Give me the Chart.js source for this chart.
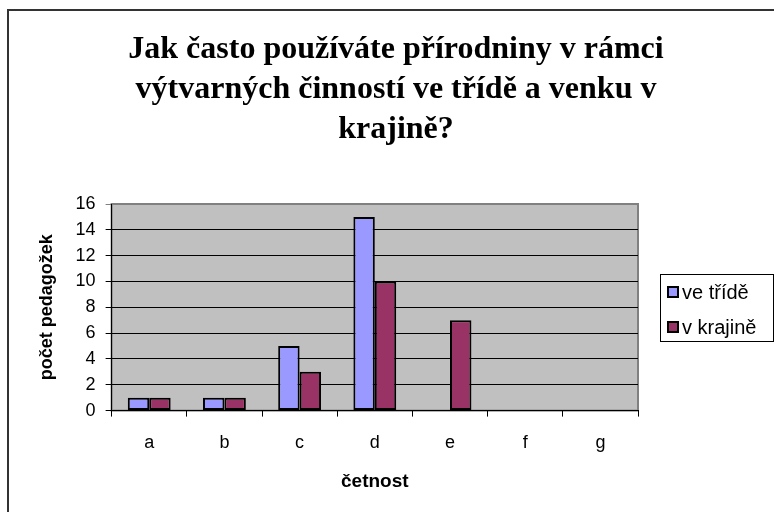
<!DOCTYPE html>
<html>
<head>
<meta charset="utf-8">
<script src="https://cdn.jsdelivr.net/npm/chart.js@4/dist/chart.umd.min.js"></script>
<style>
  html, body { margin: 0; padding: 0; background: #fff; }
  canvas { display: block; }
</style>
</head>
<body>
<canvas id="chart" width="774" height="512"></canvas>
<script>
// data
const categories = ['a', 'b', 'c', 'd', 'e', 'f', 'g'];
const veTride = [1, 1, 5, 15, 0, 0, 0];
const vKrajine = [1, 1, 3, 10, 7, 0, 0];
const yTicks = [0, 2, 4, 6, 8, 10, 12, 14, 16];
const seriesNames = ['ve třídě', 'v krajině'];
const titleLines = ['Jak často používáte přírodniny v rámci', 'výtvarných činností ve třídě a venku v', 'krajině?'];

const sans = "'Liberation Sans', Arial, sans-serif";

// gray plot area + outer frame
const plotArea = {
    id: 'plotArea',
    beforeDraw(chart) {
        const {ctx, chartArea: a} = chart;
        ctx.save();
        ctx.fillStyle = '#fff';
        ctx.fillRect(0, 0, chart.width, chart.height);
        ctx.fillStyle = '#C0C0C0';
        ctx.fillRect(a.left, a.top, a.right - a.left, a.bottom - a.top);
        ctx.strokeStyle = '#808080';
        ctx.lineWidth = 2;
        ctx.strokeRect(a.left, a.top, a.right - a.left, a.bottom - a.top);
        // frame of the chart object (only top and left show)
        ctx.strokeStyle = '#333';
        ctx.lineWidth = 2;
        ctx.beginPath();
        ctx.moveTo(8, 512);
        ctx.lineTo(8, 10);
        ctx.lineTo(774, 10);
        ctx.stroke();
        ctx.restore();
    }
};

// boxed legend like Excel
const boxLegend = {
    id: 'boxLegend',
    afterDraw(chart) {
        const {ctx} = chart;
        const x = 660, y = 274, w = 113, h = 67;
        ctx.save();
        ctx.fillStyle = '#fff';
        ctx.fillRect(x, y, w, h);
        ctx.strokeStyle = '#000';
        ctx.lineWidth = 1;
        ctx.strokeRect(x + 0.5, y + 0.5, w, h);
        ctx.font = '20px ' + sans;
        ctx.textBaseline = 'middle';
        chart.data.datasets.forEach((ds, i) => {
            const cy = 292 + i * 35;
            ctx.fillStyle = ds.backgroundColor;
            ctx.fillRect(668, cy - 5, 10, 10);
            ctx.lineWidth = 2;
            ctx.strokeStyle = '#000';
            ctx.strokeRect(668, cy - 5, 10, 10);
            ctx.fillStyle = '#000';
            ctx.fillText(ds.label, 682, cy + 1);
        });
        ctx.restore();
    }
};

const ctx = document.getElementById('chart').getContext('2d');
const chart = new Chart(ctx, {
    type: 'bar',
    data: {
        labels: categories,
        datasets: [
            {
                label: seriesNames[0],
                data: veTride,
                backgroundColor: '#9999FF',
                borderColor: '#000',
                borderWidth: c => (c.raw ? 2 : 0),
                borderSkipped: false
            },
            {
                label: seriesNames[1],
                data: vKrajine,
                backgroundColor: '#993366',
                borderColor: '#000',
                borderWidth: c => (c.raw ? 2 : 0),
                borderSkipped: false
            }
        ]
    },
    options: {
        responsive: false,
        animation: false,
        devicePixelRatio: 1,
        categoryPercentage: 0.57,
        barPercentage: 1,
        layout: {
            padding: { left: 18, right: 0, top: 0, bottom: 19 }
        },
        plugins: {
            legend: { display: false },
            tooltip: { enabled: false },
            title: {
                display: true,
                text: titleLines,
                color: '#000',
                font: { family: "'Liberation Serif', 'Times New Roman', serif", size: 32, weight: 'bold', lineHeight: 1.25 },
                padding: { top: 30, bottom: 54 }
            }
        },
        scales: {
            x: {
                ticks: { color: '#000', font: { family: sans, size: 18 }, padding: 16, autoSkip: false, maxRotation: 0 },
                grid: { display: true, offset: true, drawOnChartArea: false, color: '#000', tickLength: 6 },
                border: { display: true, color: '#000', width: 1 },
                title: {
                    display: true,
                    text: 'četnost',
                    color: '#000',
                    font: { family: sans, size: 19, weight: 'bold' },
                    padding: { top: 0, bottom: 0 }
                }
            },
            y: {
                min: 0,
                max: 16,
                afterBuildTicks: s => { s.ticks = yTicks.map(v => ({ value: v })); },
                ticks: { color: '#000', font: { family: sans, size: 18 }, padding: 10, autoSkip: false },
                grid: { color: c => (c.tick && c.tick.value === 16 ? '#808080' : '#000'), tickLength: 6, lineWidth: 1 },
                border: { display: true, color: '#000', width: 1 },
                title: {
                    display: true,
                    text: 'počet pedagožek',
                    color: '#000',
                    font: { family: sans, size: 18, weight: 'bold' },
                    padding: { top: 18, bottom: 8 }
                }
            },
            // empty axis that keeps room for the legend on the right
            yr: {
                position: 'right',
                display: true,
                ticks: { display: false },
                grid: { display: false },
                border: { display: false },
                afterFit: s => { s.width = 136; }
            }
        }
    },
    plugins: [plotArea, boxLegend]
});
</script>
</body>
</html>
